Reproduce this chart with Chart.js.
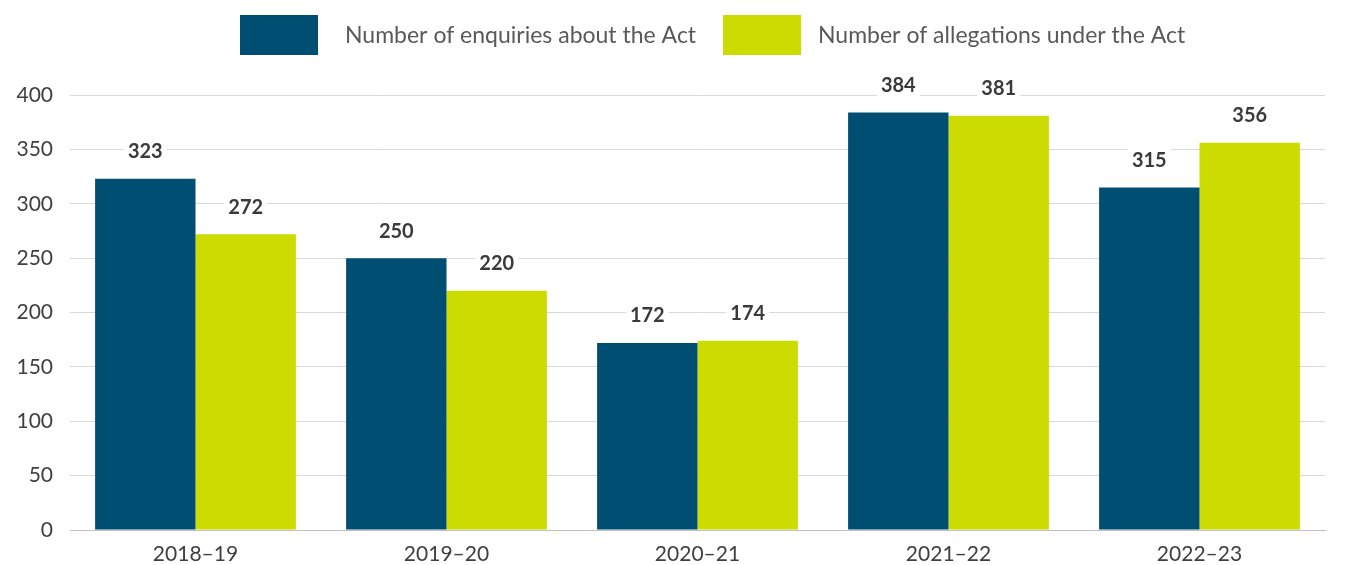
<!DOCTYPE html>
<html>
<head>
<meta charset="utf-8">
<script src="https://cdn.jsdelivr.net/npm/chart.js@4/dist/chart.umd.min.js"></script>
<style>
  html, body { margin: 0; padding: 0; background: #fff; }
  #wrap { width: 1366px; height: 565px; }
</style>
</head>
<body>
<div id="wrap"><canvas id="chart" width="1366" height="565"></canvas></div>
<script>
const years = ["2018\u201319", "2019\u201320", "2020\u201321", "2021\u201322", "2022\u201323"];
const enquiries = [323, 250, 172, 384, 315];
const allegations = [272, 220, 174, 381, 356];
const yTicks = [0, 50, 100, 150, 200, 250, 300, 350, 400];

const FONT = "Lato, 'Open Sans', sans-serif";

// value labels above each bar, on a white box like the original
const valueLabels = {
    id: "valueLabels",
    afterDatasetsDraw(chart) {
        const ctx = chart.ctx;
        ctx.save();
        ctx.font = "bold 20px " + FONT;
        ctx.textAlign = "center";
        ctx.textBaseline = "middle";
        chart.data.datasets.forEach((ds, i) => {
            chart.getDatasetMeta(i).data.forEach((bar, j) => {
                const txt = String(ds.data[j]);
                const w = ctx.measureText(txt).width;
                const y = bar.y - 27;
                ctx.fillStyle = "#fff";
                ctx.fillRect(bar.x - w / 2 - 4, y - 12, w + 8, 24);
                ctx.fillStyle = "#3a3a3a";
                ctx.fillText(txt, bar.x, y);
            });
        });
        ctx.restore();
    }
};

// legend drawn by hand so the boxes sit where the original has them
const boxLegend = {
    id: "boxLegend",
    afterDraw(chart) {
        const ctx = chart.ctx;
        const items = [{ box: 240, text: 345 }, { box: 723, text: 818 }];
        ctx.save();
        ctx.font = "23px " + FONT;
        ctx.textBaseline = "middle";
        chart.data.datasets.forEach((ds, i) => {
            ctx.fillStyle = ds.backgroundColor;
            ctx.fillRect(items[i].box, 15, 78, 40);
            ctx.fillStyle = "#595959";
            ctx.fillText(ds.label, items[i].text, 36);
        });
        ctx.restore();
    }
};

new Chart(document.getElementById("chart").getContext("2d"), {
    type: "bar",
    data: {
        labels: years,
        datasets: [
            { label: "Number of enquiries about the Act", data: enquiries, backgroundColor: "#004e71" },
            { label: "Number of allegations under the Act", data: allegations, backgroundColor: "#cddc00" }
        ]
    },
    options: {
        responsive: false,
        animation: false,
        layout: { padding: { left: 0, right: 41, top: 95, bottom: 0 } },
        plugins: {
            tooltip: { enabled: false },
            legend: { display: false }
        },
        datasets: { bar: { barPercentage: 1, categoryPercentage: 0.8 } },
        scales: {
            x: {
                grid: { display: false },
                border: { color: "#bfbfbf" },
                ticks: { color: "#404040", font: { family: FONT, size: 21 }, padding: 4 },
                afterFit(s) { s.height = 35; }
            },
            y: {
                min: 0,
                max: 400,
                afterBuildTicks(s) { s.ticks = yTicks.map(v => ({ value: v })); },
                grid: { color: "#d9d9d9", drawTicks: false },
                border: { display: false },
                ticks: { color: "#404040", font: { family: FONT, size: 21 }, padding: 17 },
                afterFit(s) { s.width = 70; }
            }
        }
    },
    plugins: [valueLabels, boxLegend]
});
</script>
</body>
</html>
